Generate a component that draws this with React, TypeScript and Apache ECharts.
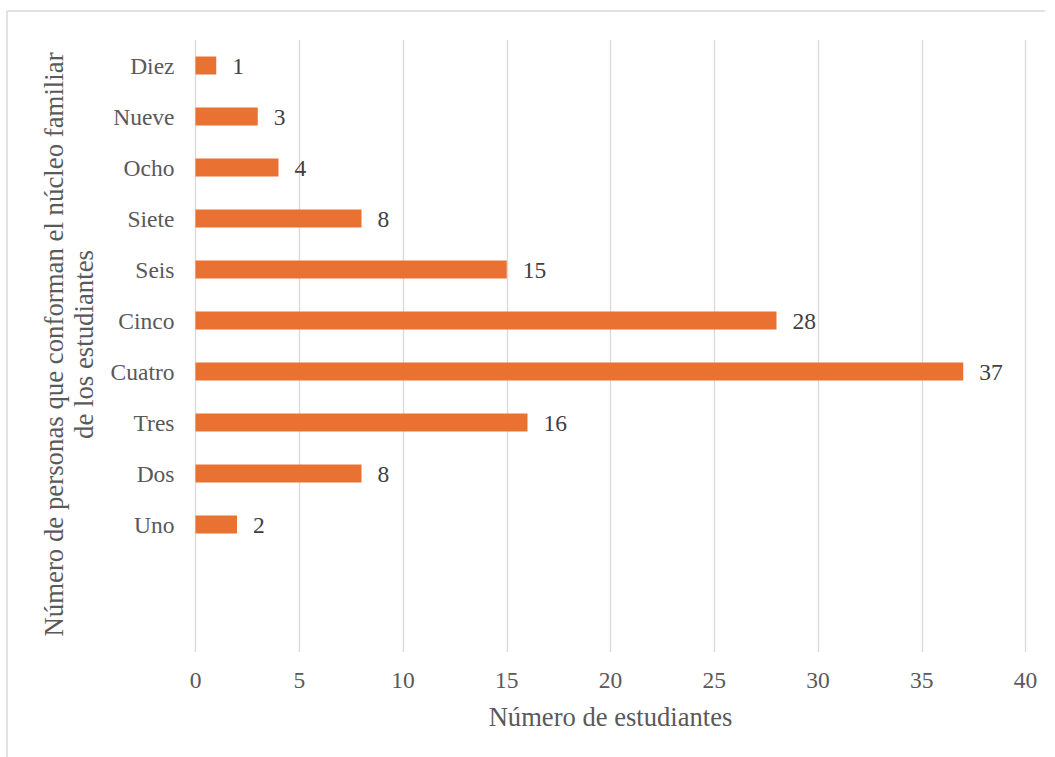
import React, { useEffect, useRef } from "react";
import * as echarts from "echarts";

const categories = ["Uno", "Dos", "Tres", "Cuatro", "Cinco", "Seis", "Siete", "Ocho", "Nueve", "Diez"];
const values = [2, 8, 16, 37, 28, 15, 8, 4, 3, 1];
const emptySlots = ["", ""];
const xTicks = { min: 0, max: 40, interval: 5 };
const xTitle = "Número de estudiantes";
const yTitleLines = ["Número de personas que conforman el núcleo familiar", "de los estudiantes"];

const FONT = "Liberation Serif";

export default function App() {
  const ref = useRef<HTMLDivElement>(null);
  useEffect(() => {
    if (!ref.current) return;
    const chart = echarts.init(ref.current, undefined, { renderer: "svg" });
    const yData = [...emptySlots, ...categories];
    const sData = [...emptySlots.map(() => null), ...values];
    chart.setOption({
      animation: false,
      backgroundColor: "#ffffff",
      textStyle: { fontFamily: FONT },
      grid: { left: 195.5, right: 29.5, top: 40, bottom: 105 },
      xAxis: {
        type: "value",
        min: xTicks.min,
        max: xTicks.max,
        interval: xTicks.interval,
        axisLine: { show: false },
        axisTick: { show: false },
        splitLine: { show: true, lineStyle: { color: "#d9d9d9", width: 1.3 } },
        axisLabel: { color: "#595959", fontFamily: FONT, fontSize: 23.5, margin: 16 },
        name: xTitle,
        nameLocation: "middle",
        nameGap: 51,
        nameTextStyle: { color: "#595959", fontFamily: FONT, fontSize: 26.6 },
      },
      yAxis: {
        type: "category",
        data: yData,
        axisLine: { show: false },
        axisTick: { show: false },
        splitLine: { show: false },
        axisLabel: { color: "#595959", fontFamily: FONT, fontSize: 23.5, margin: 21 },
      },
      graphic: [
        {
          type: "line",
          shape: { x1: 7, y1: 11, x2: 1045, y2: 11 },
          style: { stroke: "#d9d9d9", lineWidth: 1.5 },
        },
        {
          type: "line",
          shape: { x1: 7, y1: 11, x2: 7, y2: 757 },
          style: { stroke: "#d9d9d9", lineWidth: 1.5 },
        },
        {
          type: "text",
          x: 69,
          y: 344.5,
          rotation: Math.PI / 2,
          style: {
            text: yTitleLines.join("\n"),
            fill: "#595959",
            fontFamily: FONT,
            fontSize: 26.8,
            align: "center",
            verticalAlign: "middle",
            lineHeight: 30,
          },
        },
      ],
      series: [
        {
          type: "bar",
          data: sData,
          barWidth: 18,
          itemStyle: { color: "#E97132" },
          label: {
            show: true,
            position: "right",
            distance: 16,
            color: "#404040",
            fontFamily: FONT,
            fontSize: 23.5,
          },
        },
      ],
    });
    return () => chart.dispose();
  }, []);
  return (
    <div
      ref={ref}
      style={{ position: "fixed", left: 0, top: 0, width: 1055, height: 757 }}
    />
  );
}
